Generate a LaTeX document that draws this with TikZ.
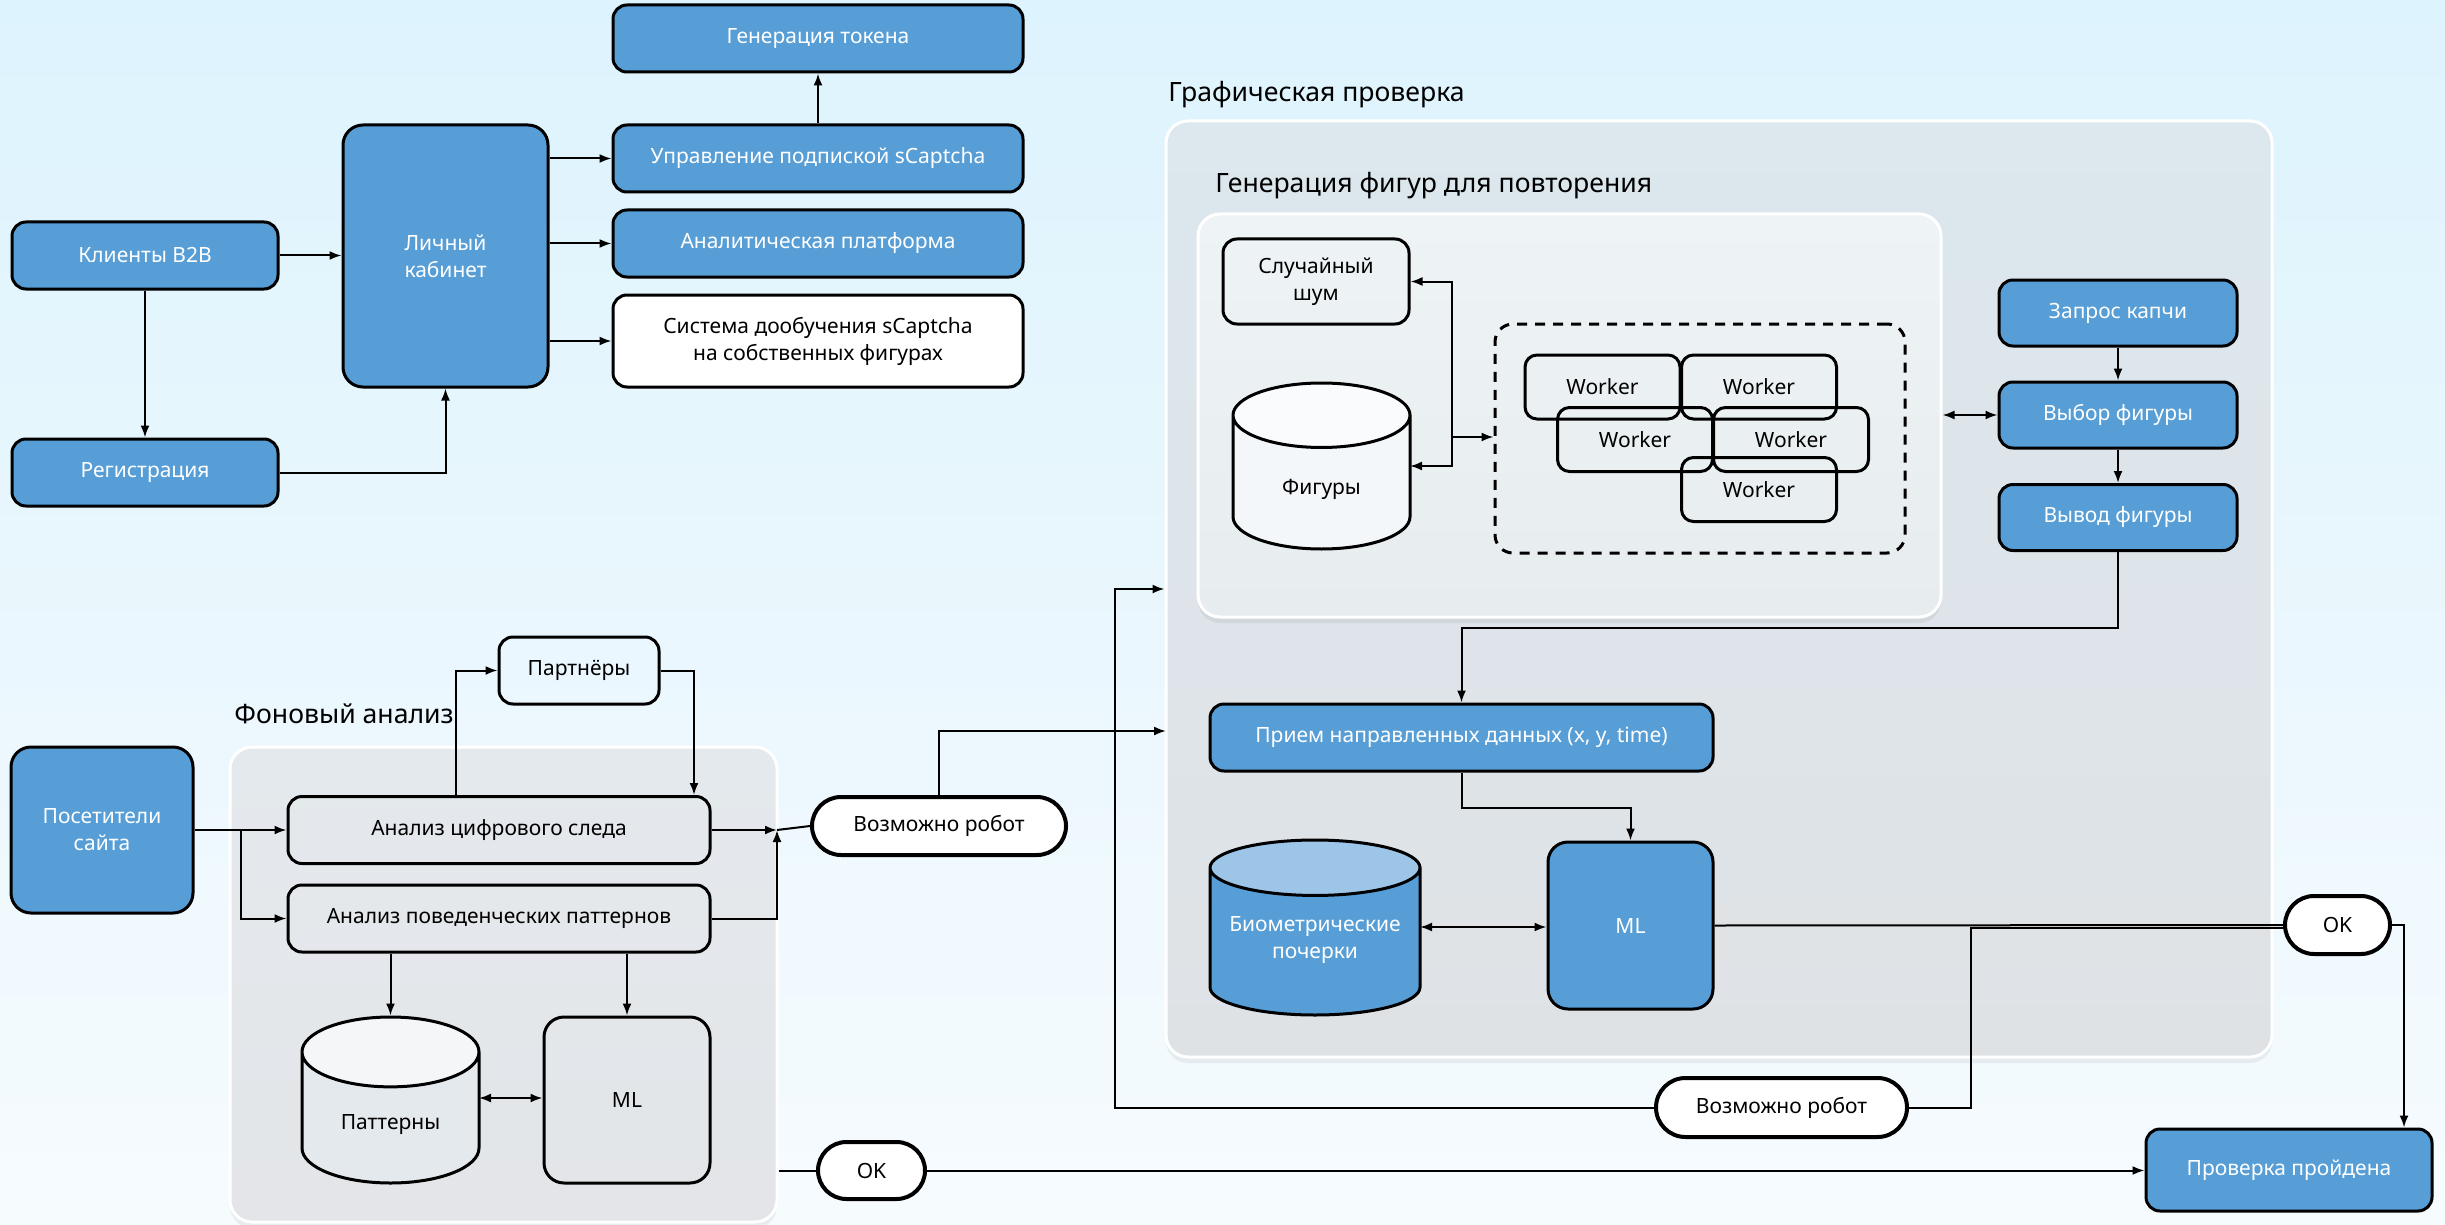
\documentclass[tikz,border=0pt]{standalone}
\usepackage{fontspec}
\setmainfont{Noto Sans}
\usetikzlibrary{arrows.meta,shapes.geometric,shapes.misc,shadows}

\definecolor{boxblue}{HTML}{579ED6}
\definecolor{lightblue}{HTML}{9CC5E8}
\definecolor{bgtop}{HTML}{DDF3FD}
\definecolor{bgbot}{HTML}{F6FBFE}
\definecolor{grA}{HTML}{DCE7EE}
\definecolor{grB}{HTML}{DFE2E5}
\definecolor{inA}{HTML}{EEF3F6}
\definecolor{inB}{HTML}{E7ECEF}
\definecolor{fnA}{HTML}{E4E9ED}
\definecolor{fnB}{HTML}{E3E5E8}

\tikzset{
  base/.style={draw=black, line width=1.5pt, rounded corners=7pt, align=center, inner sep=2pt,
    font=\fontsize{10.5pt}{13.5pt}\selectfont},
  bluebox/.style={base, fill=boxblue, text=white},
  plainbox/.style={base},
  whitebox/.style={base, fill=white},
  worker/.style={base, rounded corners=6pt, minimum width=77.5pt, minimum height=32pt},
  pill/.style={base, sharp corners, rounded rectangle, line width=2pt, fill=white},
  db/.style={cylinder, shape border rotate=90, aspect=0.5, anchor=shape center, draw=black, line width=1.5pt,
    align=center, font=\fontsize{10.5pt}{13.5pt}\selectfont, cylinder uses custom fill},
  group/.style={draw=white, line width=1.5pt, rounded corners=11pt,
    drop shadow={opacity=0.12, shadow xshift=0pt, shadow yshift=-3pt}},
  grouptitle/.style={anchor=base west, inner sep=0pt, font=\fontsize{13.3pt}{16pt}\selectfont},
  link/.style={line width=1pt},
  arr/.style={line width=1pt, -{Latex[length=6pt,width=4.5pt]}},
  dbl/.style={line width=1pt, {Latex[length=6pt,width=4.5pt]}-{Latex[length=6pt,width=4.5pt]}}
}

\begin{document}
\begin{tikzpicture}[x=0.5pt,y=-0.5pt]
\useasboundingbox (0,0) rectangle (2445,1225);
\fill[top color=bgtop, bottom color=bgbot] (0,0) rectangle (2445,1225);

% clients and account
\node[bluebox, minimum width=133pt, minimum height=33.5pt] (klienty) at (145,255.5) {Клиенты B2B};
\node[bluebox, minimum width=133pt, minimum height=33.5pt] (reg) at (145,472.5) {Регистрация};
\node[bluebox, rounded corners=10pt, minimum width=102.5pt, minimum height=131pt] (kabinet) at (445.5,256) {Личный\\кабинет};
\node[bluebox, minimum width=205pt, minimum height=33.5pt] (token) at (818,38.5) {Генерация токена};
\node[bluebox, minimum width=205pt, minimum height=33.5pt] (podpiska) at (818,158.5) {Управление подпиской sCaptcha};
\node[bluebox, minimum width=205pt, minimum height=33.5pt] (analitika) at (818,243.5) {Аналитическая платформа};
\node[whitebox, minimum width=205pt, minimum height=46pt] (doobuch) at (818,341) {Система дообучения sCaptcha\\на собственных фигурах};

\draw[arr] (klienty.east) -- (klienty.east -| kabinet.west);
\draw[arr] (klienty.south) -- (reg.north);
\draw[arr] (reg.east) -| (kabinet.south);
\draw[arr] (kabinet.east |- podpiska) -- (podpiska.west);
\draw[arr] (kabinet.east |- analitika) -- (analitika.west);
\draw[arr] (kabinet.east |- doobuch) -- (doobuch.west);
\draw[arr] (podpiska.north) -- (token.south);

% graphical check
\node[group, top color=grA, bottom color=grB, minimum width=553pt, minimum height=468pt] (graf) at (1719,589) {};
\node[grouptitle] (graftitle) at (1168,102) {Графическая проверка};
\node[group, top color=inA, bottom color=inB, minimum width=371.5pt, minimum height=201.5pt] (genbox) at (1569.5,415.5) {};
\node[grouptitle] (gentitle) at (1215,193) {Генерация фигур для повторения};

\node[plainbox, minimum width=93pt, minimum height=42.5pt] (shum) at (1316,281.5) {Случайный\\шум};
\node[db, aspect=0.7, minimum width=88.5pt, minimum height=83pt, cylinder end fill=white!70!inA, cylinder body fill=white!30!inA] (figury) at (1321.5,466) {Фигуры};
\node[plainbox, dashed, dash pattern=on 5pt off 4pt, rounded corners=9pt, minimum width=205pt, minimum height=114.5pt] (pool) at (1700,438.5) {};
\node[worker] (w1) at (1602.5,387) {Worker};
\node[worker] (w2) at (1759,387) {Worker};
\node[worker] (w3) at (1635,439.5) {Worker};
\node[worker] (w4) at (1791,439.5) {Worker};
\node[worker] (w5) at (1759,489.5) {Worker};

\coordinate (gj) at (1452,437);
\draw[arr] (gj) |- (shum.east);
\draw[arr] (gj) |- (1410,466);
\draw[arr] (gj) -- (gj -| pool.west);

\node[bluebox, minimum width=119pt, minimum height=33pt] (zapros) at (2118,313) {Запрос капчи};
\node[bluebox, minimum width=119pt, minimum height=33pt] (vybor) at (2118,415) {Выбор фигуры};
\node[bluebox, minimum width=119pt, minimum height=33pt] (vyvod) at (2118,517.5) {Вывод фигуры};
\draw[arr] (zapros.south) -- (vybor.north);
\draw[arr] (vybor.south) -- (vyvod.north);
\draw[dbl] (genbox.east |- vybor) -- (vybor.west);

\node[bluebox, minimum width=251.5pt, minimum height=33.5pt] (priem) at (1461.5,737.5) {Прием направленных данных (x, y, time)};
\draw[arr] (vyvod.south) -- ++(0,76) -| (priem.north);
\node[bluebox, rounded corners=10pt, minimum width=82.5pt, minimum height=83.5pt] (ml2) at (1630.5,925.5) {ML};
\draw[arr] (priem.south) -- ++(0,35) -| (ml2.north);
\node[db, aspect=0.3, minimum width=105pt, minimum height=87.5pt, cylinder end fill=lightblue, cylinder body fill=boxblue] (bio) at (1315,927.5) {\phantom{Биометрические}\\\phantom{почерки}};
\node[text=white, align=center, font=\fontsize{10.5pt}{13.5pt}\selectfont] (biotext) at (1315,940) {Биометрические\\почерки};
\draw[dbl] (1420,927) -- (ml2.west |- 0,927);

\node[pill, minimum width=56.5pt, minimum height=29pt] (ok2) at (2337.5,925) {OK};
\node[pill, minimum width=129.5pt, minimum height=29.5pt] (robot2) at (1781.5,1107.5) {Возможно робот};
\node[bluebox, minimum width=143pt, minimum height=41pt] (passed) at (2289,1170) {Проверка пройдена};
\draw[link] (ml2.east) -- (ok2.west);
\coordinate (rsplit) at (1971,928);
\draw[link] (robot2.east) -| (rsplit) -- (rsplit -| ok2.west);
\coordinate (rleft) at (1115,589);
\draw[arr] (robot2.west) -| (rleft) -- (graf.west);
\coordinate (okturn) at (2404,925);
\draw[arr] (ok2.east) -- (okturn) -- (okturn |- passed.north);

% background analysis
\node[group, top color=fnA, bottom color=fnB, minimum width=273.5pt, minimum height=237.5pt] (fon) at (503.5,984.5) {};
\node[grouptitle] (fontitle) at (234,723) {Фоновый анализ};
\node[bluebox, rounded corners=10pt, minimum width=91pt, minimum height=83pt] (posetiteli) at (102,830) {Посетители\\сайта};
\node[plainbox, minimum width=211pt, minimum height=33.5pt] (cifra) at (499,830) {Анализ цифрового следа};
\node[plainbox, minimum width=211pt, minimum height=33.5pt] (povedenie) at (499,918.5) {Анализ поведенческих паттернов};
\node[plainbox, minimum width=80pt, minimum height=33.5pt] (partnery) at (579,670.5) {Партнёры};
\node[db, aspect=0.62, minimum width=88.5pt, minimum height=83pt, cylinder end fill=fnA!40!white, cylinder body fill=fnA] (patterny) at (390.5,1100) {Паттерны};
\node[plainbox, rounded corners=10pt, minimum width=83pt, minimum height=83pt] (ml1) at (627,1100) {ML};
\node[pill, minimum width=131pt, minimum height=29pt] (robot1) at (939,826) {Возможно робот};
\node[pill, minimum width=57.5pt, minimum height=28.5pt] (ok1) at (871.5,1170.5) {OK};

\coordinate (vsplit) at (241,830);
\draw[arr] (posetiteli.east) -- (cifra.west);
\draw[arr] (vsplit) |- (povedenie.west);
\draw[arr] ([xshift=-21.5pt]cifra.north) |- (partnery.west);
\draw[arr] (partnery.east) -| ([xshift=97.5pt]cifra.north);
\coordinate (fmerge) at (777,830);
\draw[arr] (cifra.east) -- (fmerge);
\draw[arr] (povedenie.east) -| (fmerge);
\draw[link] (fmerge) -- (robot1.west);
\coordinate (rin) at (1166,731);
\draw[arr] (robot1.north) |- (rin);
\draw[arr] (patterny.north |- povedenie.south) -- (patterny.north);
\draw[arr] (ml1.north |- povedenie.south) -- (ml1.north);
\draw[dbl] (479,1098) -- (ml1.west |- 0,1098);
\draw[link] (fon.east |- ok1) -- (ok1.west);
\draw[arr] (ok1.east) -- (ok1.east -| passed.west);
\end{tikzpicture}
\end{document}
